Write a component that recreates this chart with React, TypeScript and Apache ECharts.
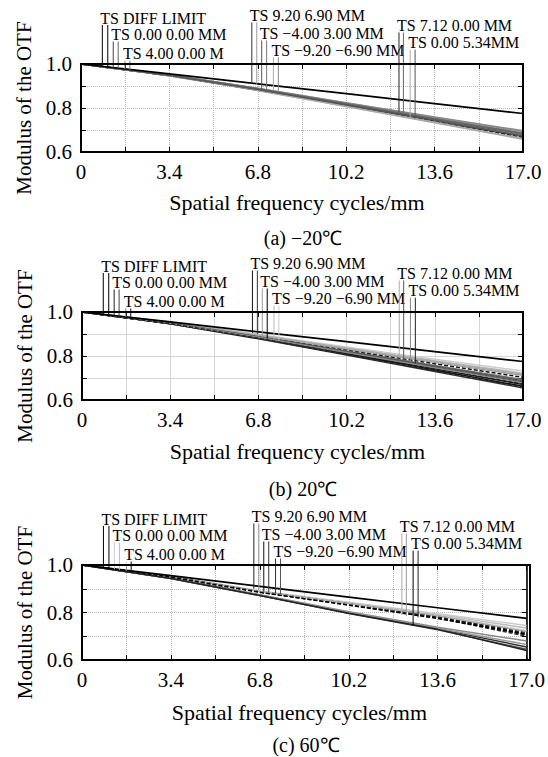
import React, { useEffect, useRef } from 'react';
import * as echarts from 'echarts';

// ---------- data ----------
const freqs = [0, 3.4, 6.8, 10.2, 13.6, 17.0];
const diffLimit = [1.0, 0.955, 0.91, 0.865, 0.82, 0.775];
const xTickLabels = ['0', '3.4', '6.8', '10.2', '13.6', '17.0'];
const yTickLabels = ['0.6', '0.8', '1.0'];
const xTitle = 'Spatial frequency cycles/mm';
const yTitle = 'Modulus of the OTF';
const captions = ['(a) \u221220\u2103', '(b) 20\u2103', '(c) 60\u2103'];

const fieldLabels = [
  'TS DIFF LIMIT',
  'TS 0.00 0.00 MM',
  'TS 4.00 0.00 M',
  'TS 9.20 6.90 MM',
  'TS \u22124.00 3.00 MM',
  'TS \u22129.20 \u22126.90 MM',
  'TS 7.12 0.00 MM',
  'TS 0.00 5.34MM',
];

// frequency at which each label's T and S leader lines sit
const leaderFreqs = [
  [0.82, 1.03], [1.24, 1.43], [1.69, 1.88],
  [6.57, 6.76], [6.95, 7.14], [7.4, 7.59],
  [12.23, 12.4], [12.66, 12.85],
];

// (a) -20C : T,S per field (0,0) (4,0) (9.2,6.9) (-4,3) (-9.2,-6.9) (7.12,0) (0,5.34)
const curvesA = [
  [1, 0.949, 0.886, 0.817, 0.748, 0.678],
  [1, 0.949, 0.885, 0.816, 0.746, 0.675],
  [1, 0.948, 0.884, 0.815, 0.745, 0.673],
  [1, 0.95, 0.888, 0.821, 0.753, 0.688],
  [1, 0.947, 0.881, 0.81, 0.738, 0.665],
  [1, 0.951, 0.889, 0.823, 0.757, 0.693],
  [1, 0.948, 0.883, 0.813, 0.742, 0.67],
  [1, 0.949, 0.886, 0.818, 0.749, 0.681],
  [1, 0.946, 0.879, 0.807, 0.733, 0.658],
  [1, 0.951, 0.89, 0.824, 0.759, 0.697],
  [1, 0.947, 0.882, 0.812, 0.74, 0.668],
  [1, 0.95, 0.887, 0.819, 0.751, 0.684],
  [1, 0.946, 0.88, 0.808, 0.735, 0.661],
  [1, 0.948, 0.884, 0.815, 0.744, 0.672],
];
// (b) 20C
const curvesB = [
  [1, 0.948, 0.883, 0.813, 0.742, 0.67],
  [1, 0.949, 0.886, 0.818, 0.75, 0.682],
  [1, 0.95, 0.889, 0.823, 0.757, 0.693],
  [1, 0.947, 0.881, 0.809, 0.736, 0.662],
  [1, 0.951, 0.891, 0.828, 0.765, 0.703],
  [1, 0.946, 0.878, 0.805, 0.73, 0.655],
  [1, 0.952, 0.893, 0.832, 0.771, 0.712],
  [1, 0.948, 0.884, 0.815, 0.745, 0.675],
  [1, 0.953, 0.896, 0.837, 0.779, 0.722],
  [1, 0.954, 0.898, 0.841, 0.785, 0.732],
  [1, 0.953, 0.895, 0.835, 0.776, 0.717],
  [1, 0.95, 0.888, 0.821, 0.754, 0.688],
  [1, 0.949, 0.885, 0.816, 0.747, 0.678],
  [1, 0.947, 0.88, 0.807, 0.733, 0.66],
];
// (c) 60C
const curvesC = [
  [1, 0.953, 0.891, 0.843, 0.795, 0.745],
  [1, 0.952, 0.89, 0.841, 0.791, 0.735],
  [1, 0.952, 0.889, 0.839, 0.788, 0.725],
  [1, 0.951, 0.888, 0.837, 0.785, 0.715],
  [1, 0.951, 0.887, 0.836, 0.783, 0.71],
  [1, 0.945, 0.875, 0.803, 0.738, 0.68],
  [1, 0.95, 0.887, 0.834, 0.78, 0.705],
  [1, 0.95, 0.886, 0.832, 0.777, 0.7],
  [1, 0.944, 0.873, 0.799, 0.731, 0.655],
  [1, 0.943, 0.871, 0.796, 0.727, 0.645],
  [1, 0.951, 0.888, 0.838, 0.786, 0.72],
  [1, 0.944, 0.874, 0.801, 0.734, 0.665],
  [1, 0.949, 0.885, 0.831, 0.775, 0.708],
  [1, 0.943, 0.872, 0.797, 0.729, 0.64],
];

// modulus where each leader pair meets its curves
const leadersA = [
  [0.989, 0.986], [0.982, 0.979], [0.976, 0.973],
  [0.912, 0.905], [0.885, 0.882], [0.879, 0.874],
  [0.783, 0.776], [0.76, 0.753],
];
const leadersB = [
  [0.989, 0.986], [0.982, 0.979], [0.976, 0.973],
  [0.905, 0.9], [0.885, 0.88], [0.875, 0.87],
  [0.797, 0.79], [0.774, 0.767],
];
const leadersC = [
  [0.989, 0.986], [0.982, 0.979], [0.976, 0.973],
  [0.9, 0.895], [0.888, 0.885], [0.88, 0.877],
  [0.79, 0.785], [0.745, 0.78],
];

// ---------- styles ----------
const FONT = '"Liberation Serif", "Times New Roman", serif';
const colorsA = ['#444', '#666', '#888', '#777', '#333', '#999', '#555', '#777', '#aaa', '#888', '#222', '#666', '#aaa', '#555'];
const dashA = [false, true, false, false, true, false, false, true, false, false, true, false, false, false];
const colorsB = ['#222', '#444', '#777', '#111', '#111', '#333', '#999', '#000', '#bbb', '#ccc', '#aaa', '#555', '#888', '#222'];
const dashB = [false, false, false, false, true, false, false, true, false, false, false, false, false, true];
const colorsC = ['#ccc', '#bbb', '#ddd', '#111', '#222', '#888', '#111', '#333', '#333', '#555', '#aaa', '#999', '#000', '#222'];
const dashC = [false, false, false, true, true, false, true, true, false, false, false, false, true, false];

// text-centre height above the plot top for each label row
const labelRowOffsets = [46, 29.5, 10.5, 48.5, 30.5, 13.5, 38.5, 21.3];

const panels = [
  { grid: { left: 81, top: 64, width: 442, height: 88 }, curves: curvesA, leaders: leadersA, colors: colorsA, dash: dashA, gridType: 'dotted', gridColor: '#b8b8b8', caption: [303, 238], nameGapX: 39 },
  { grid: { left: 82, top: 312, width: 441, height: 88 }, curves: curvesB, leaders: leadersB, colors: colorsB, dash: dashB, gridType: 'solid', gridColor: '#d6d6d6', caption: [303, 489], nameGapX: 40 },
  { grid: { left: 82, top: 565, width: 448, height: 95 }, curves: curvesC, leaders: leadersC, colors: colorsC, dash: dashC, gridType: 'dotted', gridColor: '#b8b8b8', caption: [306, 745], nameGapX: 41 },
];

function mkAxisLine() {
  return { show: true, onZero: false, lineStyle: { color: '#000', width: 1.6 } };
}
function mkAxisTick() {
  return { show: true, inside: true, length: 5, lineStyle: { color: '#000', width: 1 } };
}

function buildOption() {
  const xAxis: any[] = [];
  const yAxis: any[] = [];
  const series: any[] = [];
  panels.forEach((p, k) => {
    xAxis.push({
      gridIndex: k, type: 'value', min: 0, max: 17, interval: 1.7, position: 'bottom',
      axisLine: mkAxisLine(), axisTick: mkAxisTick(),
      splitLine: { show: true, lineStyle: { color: p.gridColor, type: p.gridType, width: 1 } },
      axisLabel: {
        fontSize: 21, fontFamily: FONT, color: '#000', margin: 9,
        formatter: (v: number) => { const i = Math.round(v / 1.7); return i % 2 === 0 ? xTickLabels[i / 2] : ''; },
      },
      name: xTitle, nameLocation: 'middle', nameGap: p.nameGapX,
      nameTextStyle: { fontSize: 22, fontFamily: FONT, color: '#000', padding: [0, 10, 0, 0] },
    });
    xAxis.push({
      gridIndex: k, type: 'value', min: 0, max: 17, interval: 1.7, position: 'top',
      axisLine: mkAxisLine(), axisTick: mkAxisTick(),
      axisLabel: { show: true, color: 'rgba(0,0,0,0)', fontSize: 1, formatter: () => '' },
      splitLine: { show: false },
    });
    yAxis.push({
      gridIndex: k, type: 'value', min: 0.6, max: 1.0, interval: 0.1, position: 'left',
      axisLine: mkAxisLine(), axisTick: mkAxisTick(),
      splitLine: { show: true, lineStyle: { color: p.gridColor, type: p.gridType, width: 1 } },
      axisLabel: {
        fontSize: 21, fontFamily: FONT, color: '#000', margin: 9,
        formatter: (v: number) => { const i = Math.round((v - 0.6) / 0.1); return i % 2 === 0 ? yTickLabels[i / 2] : ''; },
      },
      name: yTitle, nameLocation: 'middle', nameGap: 43,
      nameTextStyle: { fontSize: 21, fontFamily: FONT, color: '#000' },
    });
    yAxis.push({
      gridIndex: k, type: 'value', min: 0.6, max: 1.0, interval: 0.1, position: 'right',
      axisLine: mkAxisLine(), axisTick: mkAxisTick(),
      axisLabel: { show: true, color: 'rgba(0,0,0,0)', fontSize: 1, formatter: () => '' },
      splitLine: { show: false },
    });

    p.curves.forEach((vals, j) => {
      series.push({
        type: 'line', xAxisIndex: 2 * k, yAxisIndex: 2 * k, silent: true, z: 2,
        symbol: 'none', showSymbol: false,
        data: freqs.map((f, i) => [f, vals[i]]),
        lineStyle: { color: p.colors[j], width: 1.5, type: p.dash[j] ? [4, 2] : 'solid' },
      });
    });
    series.push({
      type: 'line', xAxisIndex: 2 * k, yAxisIndex: 2 * k, silent: true, z: 3,
      symbol: 'none', showSymbol: false,
      data: freqs.map((f, i) => [f, diffLimit[i]]),
      lineStyle: { color: '#000', width: 1.7 },
    });

    const leaderColor = (i: number, s: number) => (i === 0 ? '#000' : p.colors[2 * (i - 1) + s]);
    series.push({
      type: 'custom', xAxisIndex: 2 * k, yAxisIndex: 2 * k, silent: true, z: 5, clip: false,
      data: leaderFreqs.map((fx, i) => [fx[0], p.leaders[i][0], fx[1], p.leaders[i][1]]),
      encode: { x: [0, 2], y: [1, 3] },
      renderItem: (params: any, api: any) => {
        const i = params.dataIndex;
        const p1 = api.coord([api.value(0), api.value(1)]);
        const p2 = api.coord([api.value(2), api.value(3)]);
        const top = api.coord([0, 1.0])[1];
        const rowY = top - labelRowOffsets[i];
        return {
          type: 'group',
          children: [
            { type: 'line', shape: { x1: p1[0], y1: rowY + 7, x2: p1[0], y2: p1[1] }, style: { stroke: leaderColor(i, 0), lineWidth: 1 } },
            { type: 'line', shape: { x1: p2[0], y1: rowY + 7, x2: p2[0], y2: p2[1] }, style: { stroke: leaderColor(i, 1), lineWidth: 1 } },
            {
              type: 'text',
              style: {
                text: fieldLabels[i], x: p1[0] - 2, y: rowY,
                align: 'left', verticalAlign: 'middle',
                fontSize: 16, fontFamily: FONT, fill: '#000',
              },
            },
          ],
        };
      },
    });
  });

  const frames = panels.map((p) => ({
    type: 'rect', silent: true, z: 10,
    shape: { x: p.grid.left, y: p.grid.top, width: p.grid.width, height: p.grid.height },
    style: { fill: 'none', stroke: '#000', lineWidth: 2 },
  }));
  const capTexts = panels.map((p, k) => ({
    type: 'text', x: p.caption[0], y: p.caption[1], silent: true,
    style: {
      text: captions[k], fontSize: 20, fontFamily: FONT, fill: '#000',
      textAlign: 'center', textVerticalAlign: 'middle',
    },
  }));

  return {
    animation: false,
    backgroundColor: '#fff',
    grid: panels.map((p) => ({ ...p.grid, show: false })),
    xAxis,
    yAxis,
    series,
    graphic: [...frames, ...capTexts],
  };
}

export default function App() {
  const ref = useRef<HTMLDivElement>(null);
  useEffect(() => {
    if (!ref.current) return;
    const chart = echarts.init(ref.current, null, { renderer: 'svg' });
    chart.setOption(buildOption() as any);
    return () => chart.dispose();
  }, []);
  return (
    <div
      ref={ref}
      style={{ position: 'fixed', left: 0, top: 0, width: 548, height: 757, background: '#fff' }}
    />
  );
}
